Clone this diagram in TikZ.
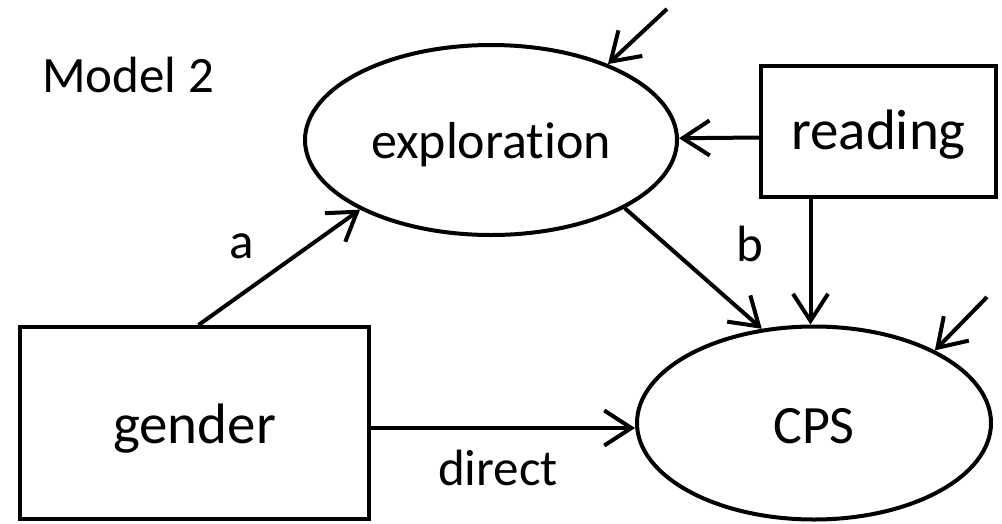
\documentclass[tikz,border=0pt]{standalone}
\usepackage{fontspec}
\setmainfont[Ligatures=NoCommon]{Carlito}
\usetikzlibrary{arrows.meta,shapes.geometric}
\newcommand{\fsz}[1]{\fontsize{#1}{#1}\selectfont}
\tikzset{
  lbl/.style={font=\fsz{51}, inner sep=0pt},
  ovalnode/.style={ellipse, draw, line width=4pt, inner sep=0pt, text depth=0pt},
  boxnode/.style={rectangle, draw, line width=4pt, inner sep=0pt, text depth=0pt},
  arr/.style={line width=4pt, -{Straight Barb[length=27pt,width=35pt,line width=4pt]}},
}
\begin{document}
\begin{tikzpicture}[x=1pt,y=-1pt]
\useasboundingbox (0,0) rectangle (1002,523);
\fill[white] (0,0) rectangle (1002,523);

% title
\node[lbl, anchor=base west] (title) at (42,92) {Model 2};

% variables (text height sets where the baseline sits inside each shape)
\node[ovalnode, minimum width=372pt, minimum height=190pt, font=\fsz{52}, text height=36pt] (expl) at (491,140) {exploration};
\node[ovalnode, minimum width=354pt, minimum height=193pt, font=\fsz{54}, text height=40pt] (cps) at (814,423) {CPS};
\node[boxnode, minimum width=349pt, minimum height=192pt, font=\fsz{57}, text height=40pt] (gender) at (194.5,423) {gender};
\node[boxnode, minimum width=235pt, minimum height=131pt, font=\fsz{57}, text height=35pt] (reading) at (878.5,131.5) {reading};

% residual tails
\coordinate (eres) at (667,9);
\coordinate (cres) at (987,297);

% paths
\draw[arr] ([xshift=4pt]gender.north) -- (expl.208);
\draw[arr] (expl.333) -- (cps.119.6);
\draw[arr] ([yshift=-6pt]reading.west) -- (expl);
\draw[arr] ([xshift=-68pt]reading.south) -- ([xshift=-68pt]reading.south |- cps.north);
\draw[arr] ([yshift=-5pt]gender.east) -- ([yshift=-5pt]gender.east -| cps.west);
\draw[arr] (eres) -- (expl.33);
\draw[arr] (cres) -- (cps.31);

% path labels
\node[lbl, anchor=base] (la) at (242,258) {a};
\node[lbl, anchor=base] (lb) at (750,261) {b};
\node[lbl, anchor=base] (ld) at (498,485) {direct};
\end{tikzpicture}
\end{document}
